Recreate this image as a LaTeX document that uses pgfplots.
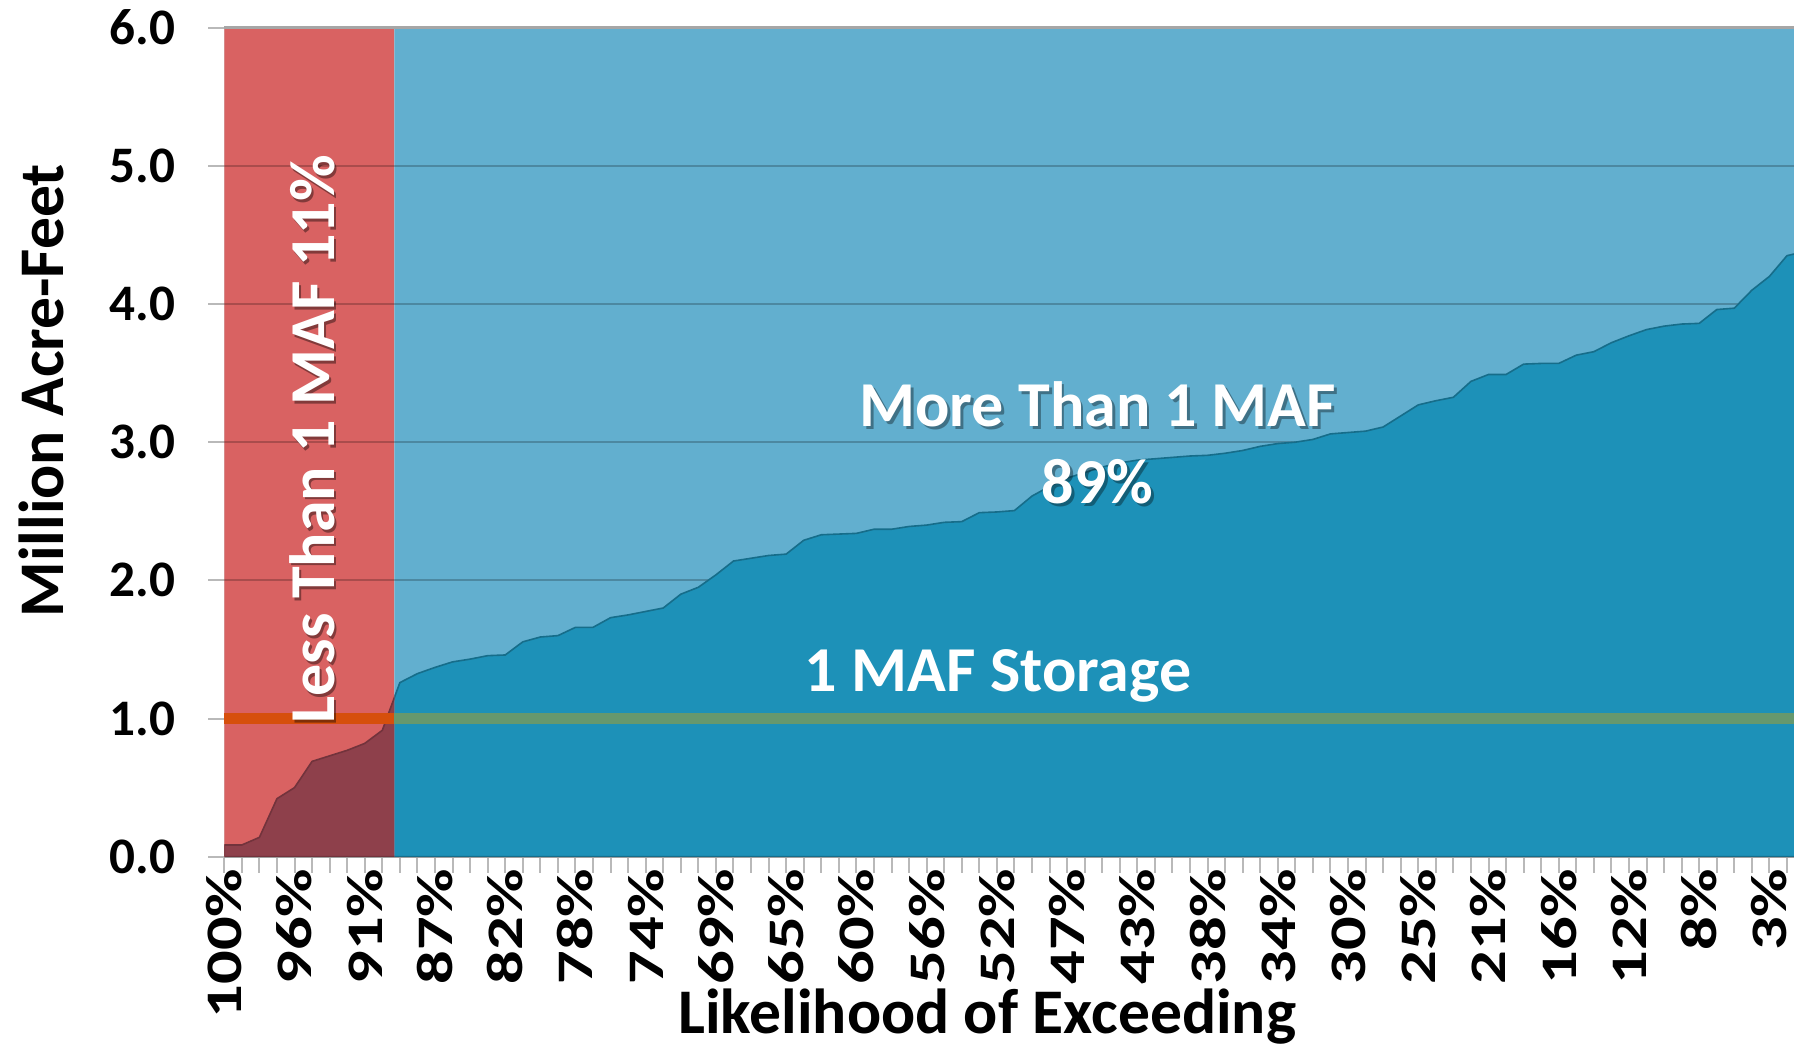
\documentclass[border=0pt]{standalone}
\usepackage{pgfplots}
\pgfplotsset{compat=1.18}
\usepackage{pgfplotstable}
\usepackage{fontspec}
\setmainfont{Carlito}

\definecolor{redbg}{HTML}{D96262}
\definecolor{bluebg}{HTML}{62AFCF}
\definecolor{areablue}{HTML}{1D91B8}
\definecolor{areared}{HTML}{8E404B}
\definecolor{bandorange}{HTML}{D64F0C}
\definecolor{bandgreen}{HTML}{66986E}

% storage volume by rank (0 = 100% likelihood)
\pgfplotstableread{
i v
0 0.085
1 0.085
2 0.14
3 0.42
4 0.50
5 0.69
6 0.73
7 0.77
8 0.82
9 0.915
10 1.26
11 1.325
12 1.37
13 1.41
14 1.43
15 1.455
16 1.46
17 1.555
18 1.59
19 1.60
20 1.66
21 1.66
22 1.73
23 1.75
24 1.775
25 1.80
26 1.90
27 1.95
28 2.04
29 2.14
30 2.16
31 2.18
32 2.19
33 2.29
34 2.33
35 2.335
36 2.34
37 2.37
38 2.37
39 2.39
40 2.40
41 2.42
42 2.425
43 2.49
44 2.495
45 2.505
46 2.61
47 2.68
48 2.74
49 2.78
50 2.82
51 2.85
52 2.87
53 2.88
54 2.89
55 2.90
56 2.905
57 2.92
58 2.94
59 2.97
60 2.99
61 3.00
62 3.02
63 3.06
64 3.07
65 3.08
66 3.11
67 3.19
68 3.27
69 3.30
70 3.325
71 3.44
72 3.49
73 3.49
74 3.565
75 3.57
76 3.57
77 3.63
78 3.655
79 3.72
80 3.77
81 3.815
82 3.84
83 3.855
84 3.86
85 3.96
86 3.97
87 4.10
88 4.20
89 4.35
90 4.38
}\curve

\begin{document}
\begin{tikzpicture}
\begin{axis}[
    scale only axis,
    width=392.425pt, height=207.25pt,
    xmin=0, xmax=89.4, ymin=0, ymax=6,
    clip=false,
    axis lines*=left,
    x axis line style={draw=gray!75, line width=0.7pt},
    y axis line style={draw=gray!35, line width=0.4pt},
    tick align=outside,
    major tick length=4pt, minor tick length=4pt,
    tick style={draw=gray!55, line width=0.5pt},
    xtick={0,4,...,88},
    minor xtick={0,1,...,89},
    xticklabels={100\%,96\%,91\%,87\%,82\%,78\%,74\%,69\%,65\%,60\%,56\%,52\%,47\%,43\%,38\%,34\%,30\%,25\%,21\%,16\%,12\%,8\%,3\%},
    xticklabel style={rotate=90, anchor=east, xshift=1.3pt, xscale=1.3, inner sep=0pt,
        font=\bfseries\fontsize{12.8}{14}\selectfont},
    ytick={0,1,...,6},
    yticklabels={0.0,1.0,2.0,3.0,4.0,5.0,6.0},
    yticklabel style={anchor=east, inner sep=0pt, xshift=-8pt,
        font=\bfseries\fontsize{12.8}{14}\selectfont},
    ylabel={Million Acre-Feet},
    ylabel style={at={(axis description cs:-0.1162,0.562)}, anchor=center,
        font=\bfseries\fontsize{15.9}{18}\selectfont},
    xlabel={Likelihood of Exceeding},
    xlabel style={at={(axis description cs:0.486,-0.2127)}, anchor=base,
        font=\bfseries\fontsize{15.9}{18}\selectfont},
]
% shaded regions
\addplot[fill=redbg, draw=none] coordinates {(0,0) (0,6) (9.68,6) (9.68,0)} \closedcycle;
\addplot[fill=bluebg, draw=none] coordinates {(9.68,0) (9.68,6) (89.4,6) (89.4,0)} \closedcycle;

% grid
\draw[black, opacity=0.22, line width=0.5pt] (axis cs:0,2) -- (axis cs:89.4,2);
\draw[black, opacity=0.22, line width=0.5pt] (axis cs:0,3) -- (axis cs:89.4,3);
\draw[black, opacity=0.22, line width=0.5pt] (axis cs:0,4) -- (axis cs:89.4,4);
\draw[black, opacity=0.22, line width=0.5pt] (axis cs:0,5) -- (axis cs:89.4,5);
\draw[gray!70, line width=0.6pt] (axis cs:0,6) -- (axis cs:89.4,6);

% storage curve
\begin{scope}
\clip (axis cs:9.68,0) rectangle (axis cs:89.4,6.5);
\addplot[fill=areablue, draw=areablue!75!black, line width=0.4pt] table[x=i, y=v] {\curve} \closedcycle;
\end{scope}
\begin{scope}
\clip (axis cs:0,0) rectangle (axis cs:9.68,6);
\addplot[fill=areared, draw=areared!80!black, line width=0.4pt] table[x=i, y=v] {\curve} \closedcycle;
\end{scope}

% 1 MAF line
\addplot[bandorange, line width=2.9pt] coordinates {(0,1) (9.68,1)};
\addplot[bandgreen, line width=2.9pt] coordinates {(9.68,1) (89.4,1)};

% labels
\node[rotate=90, anchor=base, text=black, opacity=0.4, font=\bfseries\fontsize{16}{18}\selectfont]
    at ([shift={(0.7pt,-0.7pt)}]axis cs:6.25,3.02) {Less Than 1 MAF 11\%};
\node[rotate=90, anchor=base, text=white, font=\bfseries\fontsize{16}{18}\selectfont]
    at (axis cs:6.25,3.02) {Less Than 1 MAF 11\%};

\node[anchor=base, text=black, opacity=0.35, font=\bfseries\fontsize{16}{18}\selectfont]
    at ([shift={(0.7pt,-0.7pt)}]axis cs:49.74,3.115) {More Than 1 MAF};
\node[anchor=base, text=white, font=\bfseries\fontsize{16}{18}\selectfont]
    at (axis cs:49.74,3.115) {More Than 1 MAF};
\node[anchor=base, text=black, opacity=0.35, font=\bfseries\fontsize{16}{18}\selectfont]
    at ([shift={(0.7pt,-0.7pt)}]axis cs:49.74,2.553) {89\%};
\node[anchor=base, text=white, font=\bfseries\fontsize{16}{18}\selectfont]
    at (axis cs:49.74,2.553) {89\%};

\node[anchor=base, text=white, font=\bfseries\fontsize{16}{18}\selectfont]
    at (axis cs:44.07,1.197) {1 MAF Storage};

\coordinate (O) at (rel axis cs:0,0);
\end{axis}
\pgfresetboundingbox
\path ([shift={(-56.075pt,-47.325pt)}]O) rectangle ([shift={(392.425pt,214.175pt)}]O);
\end{tikzpicture}
\end{document}
